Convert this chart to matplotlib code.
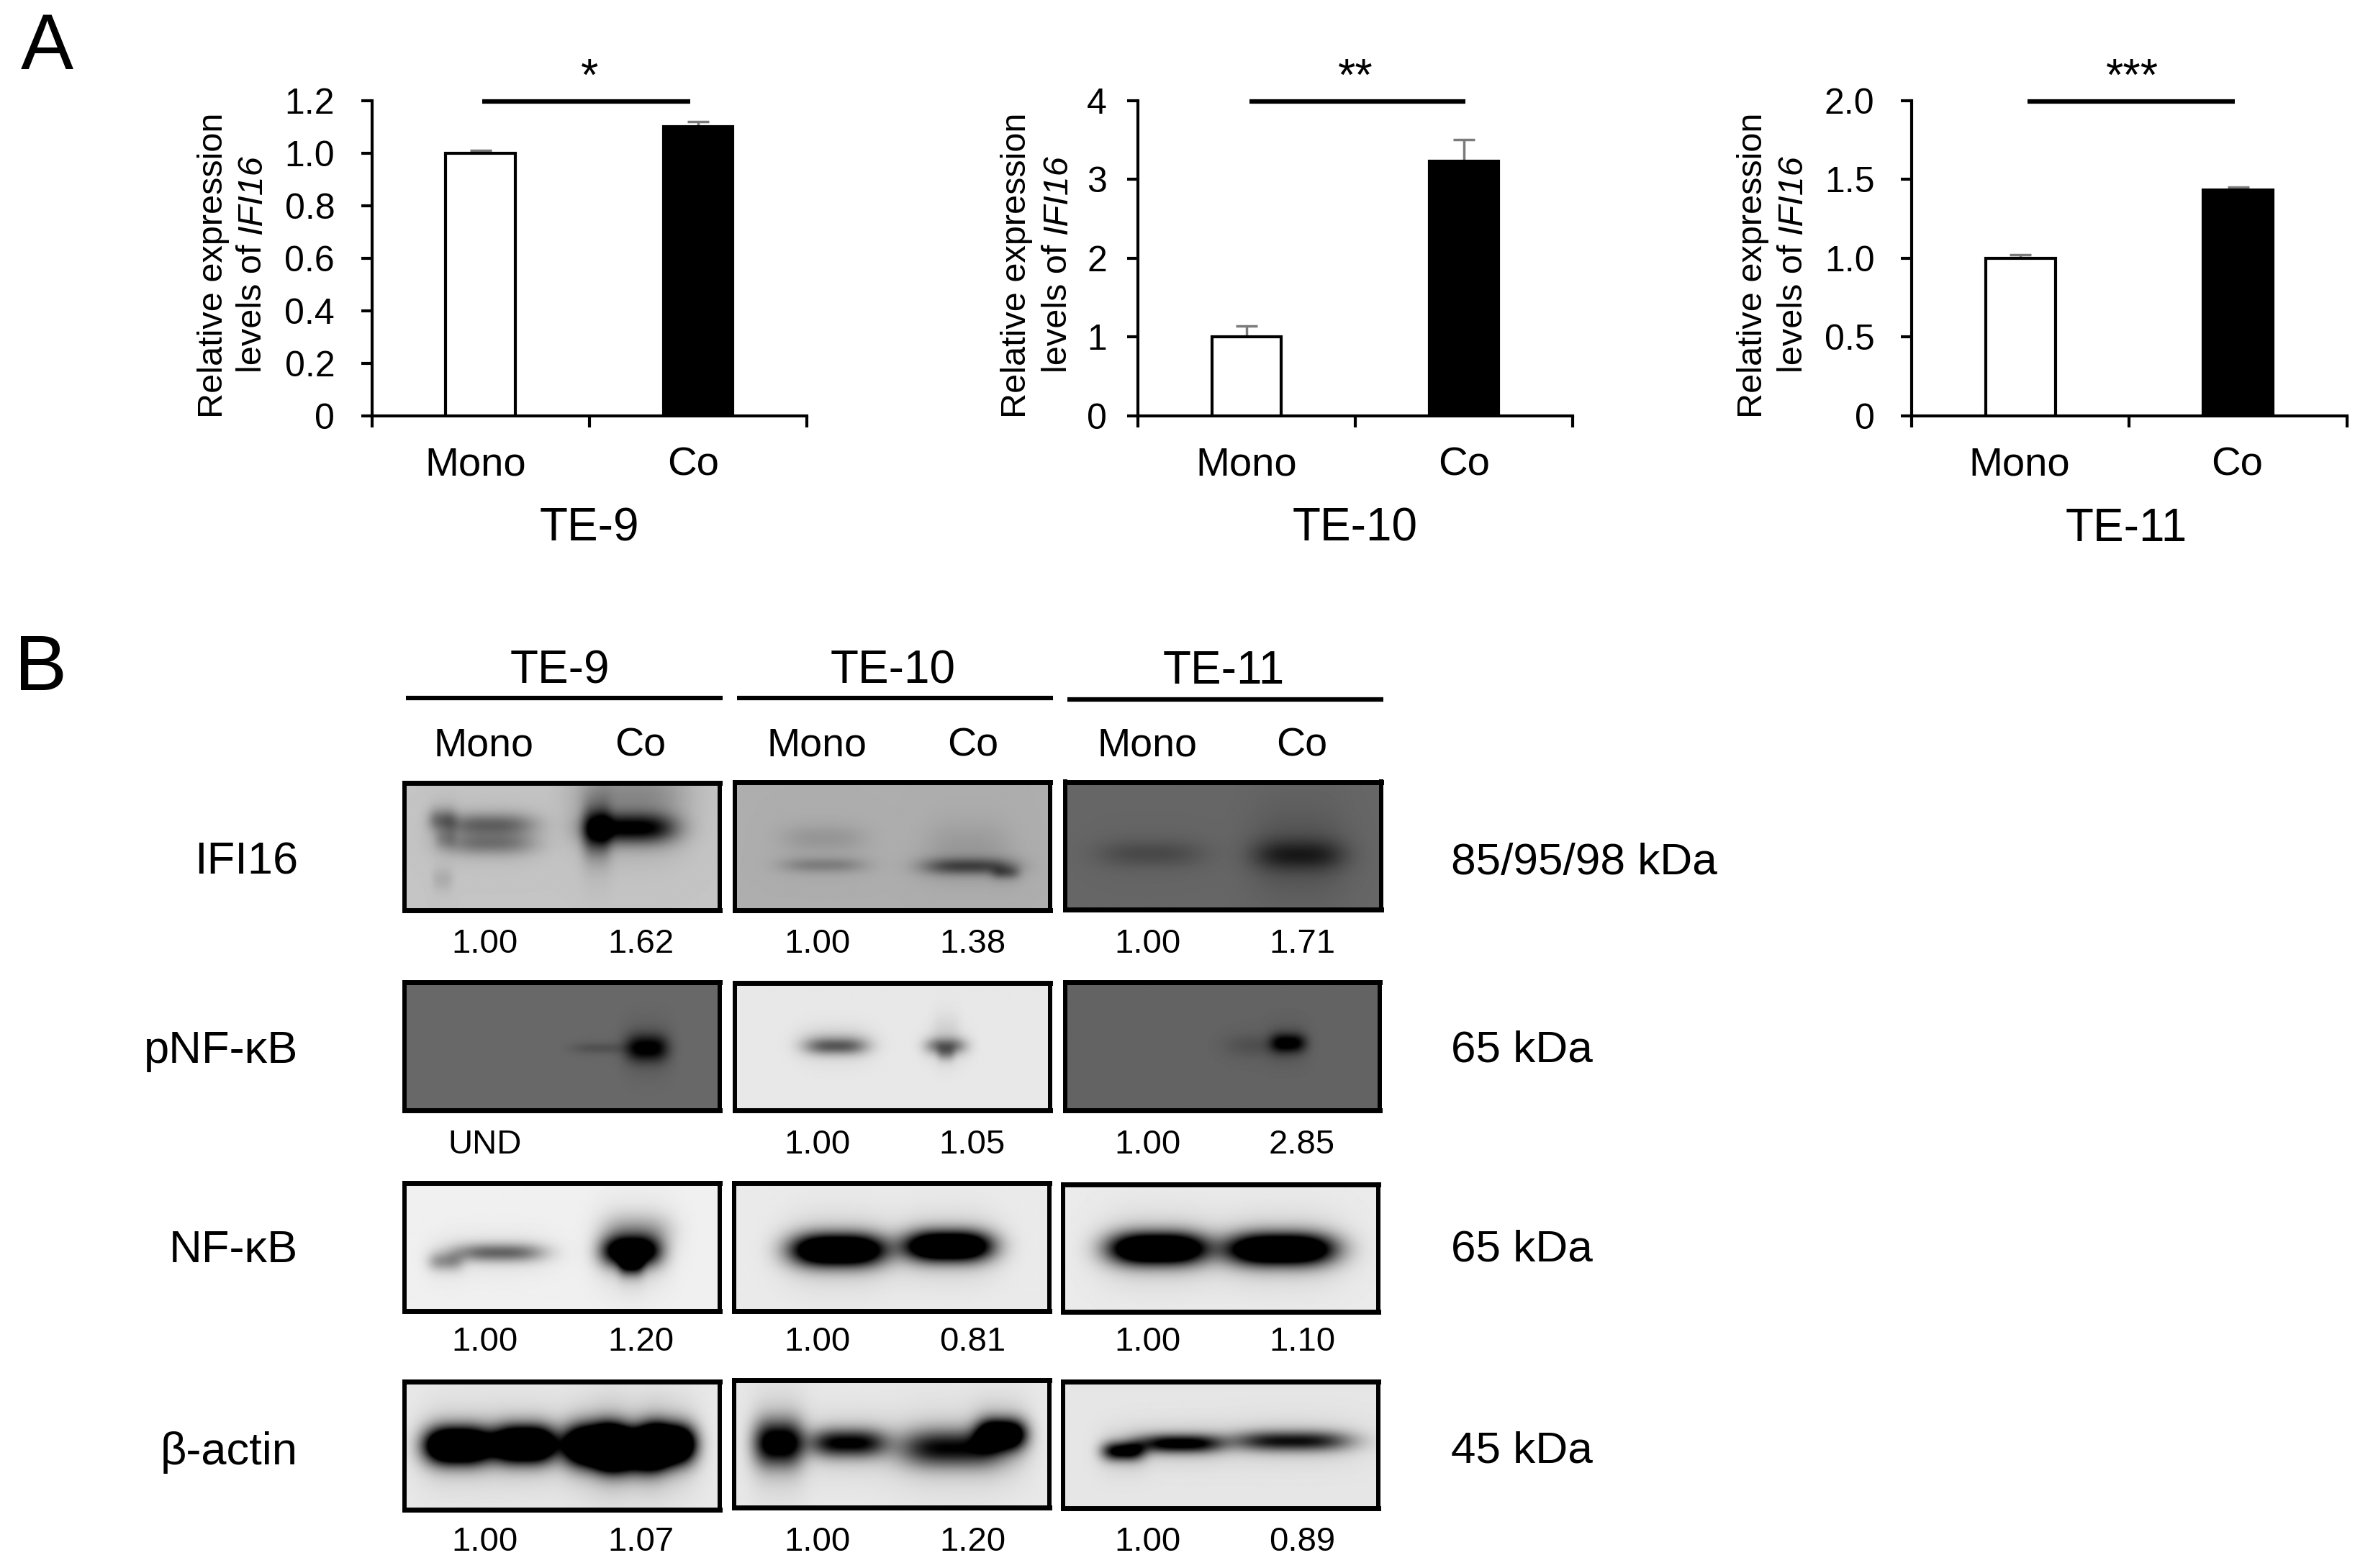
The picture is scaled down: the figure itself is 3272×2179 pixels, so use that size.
import matplotlib
matplotlib.use('Agg')
import matplotlib.pyplot as plt
import numpy as np

plt.rcParams['font.family'] = ['Liberation Sans', 'DejaVu Sans']

WIDTH, HEIGHT = 3273, 2179

# panel A
categories = ['Mono', 'Co']
te9_values = [1.00, 1.10]
te9_errors = [0.01, 0.02]
te10_values = [1.00, 3.23]
te10_errors = [0.14, 0.27]
te11_values = [1.00, 1.43]
te11_errors = [0.02, 0.02]
te9_ticks = [0, 0.2, 0.4, 0.6, 0.8, 1.0, 1.2]
te9_ticklabels = ['0', '0.2', '0.4', '0.6', '0.8', '1.0', '1.2']
te10_ticks = [0, 1, 2, 3, 4]
te10_ticklabels = ['0', '1', '2', '3', '4']
te11_ticks = [0, 0.5, 1.0, 1.5, 2.0]
te11_ticklabels = ['0', '0.5', '1.0', '1.5', '2.0']

# panel B
cell_lines = ['TE-9', 'TE-10', 'TE-11']
row_labels = ['IFI16', 'pNF-κB', 'NF-κB', 'β-actin']
kda_labels = ['85/95/98 kDa', '65 kDa', '65 kDa', '45 kDa']
ifi16_ratios = ['1.00', '1.62', '1.00', '1.38', '1.00', '1.71']
pnfkb_ratios = ['UND', '', '1.00', '1.05', '1.00', '2.85']
nfkb_ratios = ['1.00', '1.20', '1.00', '0.81', '1.00', '1.10']
actin_ratios = ['1.00', '1.07', '1.00', '1.20', '1.00', '0.89']

# blot bands: centre u, centre v, half width, half height, darkness
ifi16_te9_bands = [(0.27, 0.33, 0.13, 0.06, 0.32), (0.12, 0.29, 0.04, 0.06, 0.25),
                   (0.27, 0.48, 0.13, 0.06, 0.26), (0.13, 0.44, 0.03, 0.05, 0.12),
                   (0.12, 0.76, 0.03, 0.06, 0.08), (0.72, 0.36, 0.13, 0.08, 0.7),
                   (0.61, 0.38, 0.04, 0.13, 0.45), (0.72, 0.08, 0.16, 0.14, 0.18)]
ifi16_te10_bands = [(0.28, 0.65, 0.12, 0.04, 0.16), (0.28, 0.44, 0.12, 0.07, 0.08),
                    (0.74, 0.66, 0.13, 0.045, 0.36), (0.86, 0.71, 0.04, 0.035, 0.22),
                    (0.74, 0.48, 0.12, 0.12, 0.06)]
ifi16_te11_bands = [(0.27, 0.57, 0.15, 0.07, 0.1), (0.74, 0.58, 0.13, 0.08, 0.22),
                    (0.74, 0.55, 0.13, 0.25, 0.05)]
pnfkb_te9_bands = [(0.77, 0.52, 0.06, 0.07, 0.42), (0.62, 0.52, 0.08, 0.03, 0.08)]
pnfkb_te10_bands = [(0.32, 0.505, 0.09, 0.045, 0.42), (0.32, 0.46, 0.1, 0.06, 0.1),
                    (0.67, 0.5, 0.06, 0.045, 0.4), (0.67, 0.56, 0.025, 0.04, 0.22),
                    (0.67, 0.38, 0.04, 0.1, 0.06)]
pnfkb_te11_bands = [(0.71, 0.48, 0.05, 0.05, 0.38), (0.62, 0.5, 0.1, 0.06, 0.07)]
nfkb_te9_bands = [(0.3, 0.55, 0.13, 0.05, 0.48), (0.13, 0.62, 0.05, 0.05, 0.3),
                  (0.72, 0.54, 0.085, 0.08, 1.2), (0.72, 0.64, 0.035, 0.06, 0.6),
                  (0.74, 0.38, 0.1, 0.09, 0.22)]
nfkb_te10_bands = [(0.33, 0.53, 0.135, 0.085, 1.5), (0.68, 0.5, 0.125, 0.08, 1.5)]
nfkb_te11_bands = [(0.3, 0.505, 0.14, 0.085, 1.5), (0.69, 0.51, 0.155, 0.085, 1.5)]
actin_te9_bands = [(0.17, 0.5, 0.095, 0.095, 1.8), (0.38, 0.49, 0.09, 0.095, 1.8),
                   (0.6, 0.5, 0.085, 0.105, 1.8), (0.72, 0.53, 0.1, 0.11, 1.8),
                   (0.84, 0.49, 0.075, 0.1, 1.8)]
actin_te10_bands = [(0.14, 0.5, 0.07, 0.12, 1.0), (0.36, 0.5, 0.11, 0.075, 0.85),
                    (0.69, 0.54, 0.15, 0.1, 0.8), (0.85, 0.43, 0.07, 0.08, 1.3)]
actin_te11_bands = [(0.19, 0.55, 0.06, 0.05, 0.9), (0.37, 0.49, 0.12, 0.05, 0.9),
                    (0.725, 0.47, 0.17, 0.055, 0.75)]

ifi16_backgrounds = [0.77, 0.68, 0.4]
pnfkb_backgrounds = [0.41, 0.91, 0.39]
nfkb_backgrounds = [0.94, 0.92, 0.92]
actin_backgrounds = [0.91, 0.91, 0.9]


def fig_x(px):
    return px / WIDTH


def fig_y(px):
    return 1 - px / HEIGHT


fig = plt.figure(figsize=(WIDTH / 100, HEIGHT / 100), dpi=100, facecolor='white')


def put_text(x, y, label, size, **kwargs):
    kwargs.setdefault('ha', 'center')
    kwargs.setdefault('va', 'center')
    return fig.text(fig_x(x), fig_y(y), label, fontsize=size, color='black', **kwargs)


def draw_bar_panel(left, right, values, errors, ticks, ticklabels, tick_pad, ymax,
                   stars, star_x, bracket, title, title_x, label_offsets, name_shift):
    top, bottom = 139.5, 578
    ax = fig.add_axes([fig_x(left), fig_y(bottom), fig_x(right - left), (bottom - top) / HEIGHT])
    ax.patch.set_visible(False)
    ax.bar([0.5, 1.5], values, width=0.32, color=['white', 'black'], edgecolor='black',
           linewidth=3, zorder=3,
           yerr=[[0, 0], errors], ecolor='#7a7a7a',
           error_kw={'capsize': 10.5, 'elinewidth': 2.5, 'capthick': 2.5, 'zorder': 2})
    ax.set_xlim(0, 2)
    ax.set_ylim(0, ymax)
    ax.set_xticks([0, 1, 2])
    ax.set_xticklabels([])
    ax.set_yticks(ticks)
    ax.set_yticklabels(ticklabels, fontsize=36)
    ax.tick_params(axis='y', length=11, width=3, pad=tick_pad)
    ax.tick_params(axis='x', length=11.5, width=3)
    for side in ('top', 'right'):
        ax.spines[side].set_visible(False)
    for side in ('left', 'bottom'):
        ax.spines[side].set_linewidth(3)

    for i, name in enumerate(categories):
        ax.text(i + name_shift, -0.157, name, transform=ax.get_xaxis_transform(),
                fontsize=40.5, ha='center', va='center')

    fig.add_artist(plt.Line2D([fig_x(bracket[0]), fig_x(bracket[1])], [fig_y(140.5), fig_y(140.5)],
                              color='black', linewidth=4.5, solid_capstyle='butt'))
    put_text(star_x, 108, stars, 45)
    put_text(title_x, 735, title, 46)

    # two line y label, the gene name is italic
    put_text(left - label_offsets[0], 581, 'Relative expression', 35, rotation=90, va='bottom')
    first = put_text(left - label_offsets[1], 518, 'levels of', 35, rotation=90, va='bottom')
    extent = first.get_window_extent(fig.canvas.get_renderer())
    second = fig.text(fig_x(left - label_offsets[1]), (extent.y1 + 13) / HEIGHT, 'IFI16',
                      fontsize=35, style='italic', rotation=90, ha='center', va='bottom')
    return ax, second


draw_bar_panel(516.6, 1121, te9_values, te9_errors, te9_ticks, te9_ticklabels, 26, 1.2,
               '*', 819, (670, 959), 'TE-9', 819, (220, 166), 0.477)
draw_bar_panel(1581, 2185, te10_values, te10_errors, te10_ticks, te10_ticklabels, 20, 4,
               '**', 1883, (1736, 2036), 'TE-10', 1883, (168, 111), 0.5)
draw_bar_panel(2656, 3261, te11_values, te11_errors, te11_ticks, te11_ticklabels, 26, 2.0,
               '***', 2963, (2817, 3105), 'TE-11', 2954, (220, 165), 0.495)

put_text(29, 96, 'A', 79, ha='left', va='baseline')
put_text(20, 959, 'B', 79, ha='left', va='baseline')


def render_blot(background, bands):
    u, v = np.meshgrid(np.linspace(0, 1, 460), np.linspace(0, 1, 190))
    dark = np.zeros_like(u)
    for cu, cv, su, sv, amount in bands:
        dark += amount * np.exp(-np.abs((u - cu) / (su * 1.1)) ** 3) * np.exp(-((v - cv) / (sv * 1.45)) ** 2)
        # soft halo round a band
        dark += min(amount, 1) * 0.14 * np.exp(-np.abs((u - cu) / (su * 1.3)) ** 3) * np.exp(-((v - cv) / (sv * 3.2)) ** 2)
    return np.clip(background - dark, 0, 1)


def draw_blot(rect, background, bands):
    x0, y0, x1, y1 = rect
    ax = fig.add_axes([fig_x(x0 + 3), fig_y(y1 - 3.5), (x1 - x0 - 6) / WIDTH, (y1 - y0 - 7) / HEIGHT])
    ax.imshow(render_blot(background, bands), cmap='gray', vmin=0, vmax=1, aspect='auto',
              interpolation='bilinear')
    ax.set_xticks([])
    ax.set_yticks([])
    for side in ('left', 'right'):
        ax.spines[side].set_linewidth(4.3)
    for side in ('top', 'bottom'):
        ax.spines[side].set_linewidth(5)


blot_rects = [
    [(559, 1084, 1003, 1268), (1018, 1083, 1462, 1268), (1477, 1083, 1922, 1267)],
    [(559, 1361, 1003, 1546), (1018, 1362, 1462, 1546), (1477, 1361, 1920, 1546)],
    [(559, 1640, 1003, 1825), (1017, 1640, 1461, 1825), (1474, 1642, 1918, 1826)],
    [(559, 1916, 1003, 2101), (1017, 1914, 1461, 2098), (1474, 1916, 1918, 2099)],
]
blot_bands = [
    [ifi16_te9_bands, ifi16_te10_bands, ifi16_te11_bands],
    [pnfkb_te9_bands, pnfkb_te10_bands, pnfkb_te11_bands],
    [nfkb_te9_bands, nfkb_te10_bands, nfkb_te11_bands],
    [actin_te9_bands, actin_te10_bands, actin_te11_bands],
]
blot_backgrounds = [ifi16_backgrounds, pnfkb_backgrounds, nfkb_backgrounds, actin_backgrounds]
blot_ratios = [ifi16_ratios, pnfkb_ratios, nfkb_ratios, actin_ratios]

row_y = [1198, 1461, 1737, 2019]
kda_y = [1199, 1460, 1737, 2017]
ratio_y = [1312, 1591, 1865, 2143]
ratio_x = [674, 890, 1136, 1351, 1595, 1809]
lane_x = [672, 890, 1135, 1352, 1594, 1809]
line_x = [(564, 1004), (1024, 1463), (1483, 1922)]
line_y = [970, 970, 972]
title_x = [778, 1241, 1700]

for name, x, (x0, x1), y in zip(cell_lines, title_x, line_x, line_y):
    put_text(x, 933, name, 46)
    fig.add_artist(plt.Line2D([fig_x(x0), fig_x(x1)], [fig_y(y), fig_y(y)], color='black',
                              linewidth=4.5, solid_capstyle='butt'))

for i, x in enumerate(lane_x):
    put_text(x, 1037, categories[i % 2], 40)

for r in range(4):
    put_text(414, row_y[r], row_labels[r], 45.5, ha='right')
    put_text(2016, kda_y[r], kda_labels[r], 44.7, ha='left')
    for c in range(3):
        draw_blot(blot_rects[r][c], blot_backgrounds[r][c], blot_bands[r][c])
    for x, label in zip(ratio_x, blot_ratios[r]):
        put_text(x, ratio_y[r], label, 34)

fig.savefig('out.png', dpi=100, facecolor='white')
plt.close(fig)
